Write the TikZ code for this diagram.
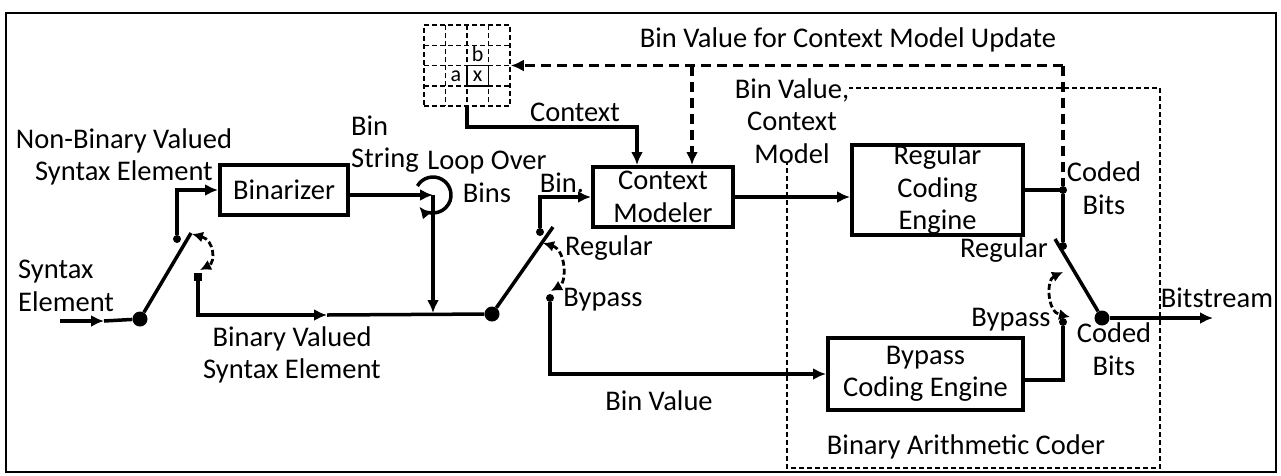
\documentclass[tikz,border=0pt]{standalone}
\usepackage{fontspec}
\setmainfont{Carlito}
\usetikzlibrary{arrows.meta,calc}
\begin{document}
\begin{tikzpicture}[x=1pt,y=-1pt,
  lbl/.style={font=\fontsize{28.5}{32.5}\selectfont, inner sep=0pt, align=center},
  box/.style={draw, line width=4pt, inner sep=0pt, align=center, font=\fontsize{28.5}{32.5}\selectfont},
  conn/.style={line width=3.5pt},
  arr/.style={conn, -{Latex[length=13pt,width=12pt]}},
  fb/.style={line width=3.5pt, dash pattern=on 10pt off 6pt},
  fbarr/.style={fb, -{Latex[length=13pt,width=12pt]}},
  swarc/.style={line width=2.8pt, dash pattern=on 6pt off 3pt, {Latex[length=11pt,width=11pt]}-{Latex[length=11pt,width=11pt]}},
  thindash/.style={line width=1.5pt, dash pattern=on 5pt off 3pt},
  pivot/.style={circle, fill, inner sep=0pt, minimum size=15pt},
  contact/.style={circle, fill, inner sep=0pt, minimum size=8pt},
  cell/.style={font=\fontsize{22}{22}\selectfont, inner sep=0pt},
]
\useasboundingbox (0,0) rectangle (1281,475);
\draw[line width=2.2pt] (6,13) rectangle (1276,472);

% context template grid
\node[draw, thindash, minimum width=86pt, minimum height=81pt, inner sep=0pt] (grid) at (467,65.5) {};
\foreach \gx in {445.5,467,488.5} \draw[thindash] (\gx,25) -- (\gx,106);
\foreach \gy in {45.25,65.5,85.75} \draw[thindash] (424,\gy) -- (510,\gy);
\draw[line width=1.8pt] (467,65.5) rectangle (488.5,85.75);
\node[cell] (cb) at (477.75,54) {b};
\node[cell] (ca) at (456,76.5) {a};
\node[cell] (cx) at (477.75,76.5) {x};

% blocks
\node[box, minimum width=128pt, minimum height=50pt] (bin) at (284,190) {Binarizer};
\node[box, minimum width=140pt, minimum height=60pt] (cm) at (663,197) {Context\\Modeler};
\node[box, minimum width=171pt, minimum height=88pt] (rce) at (937.5,190) {Regular\\Coding\\Engine};
\node[box, minimum width=195pt, minimum height=72pt] (bce) at (925.5,374) {Bypass\\Coding Engine};

% binary arithmetic coder frame
\draw[thindash] (787,88) rectangle (1160,468);
\node[lbl] (bacl) at (966,447) {Binary Arithmetic Coder};

% switches: pivots and contacts
\node[pivot] (p1) at (140,319) {};
\node[contact] (c1a) at (177,239) {};
\node[fill, inner sep=0pt, minimum width=8pt, minimum height=8pt] (c1b) at (198,277) {};
\coordinate (b1top) at (191,233);
\node[pivot] (p2) at (492,314) {};
\node[contact] (c2a) at (540,232) {};
\node[contact] (c2b) at (550,298) {};
\coordinate (b2top) at (553,227);
\node[pivot] (p3) at (1102,318) {};
\node[contact] (c3a) at (1063,246) {};
\node[contact] (c3b) at (1063,322) {};
\node[contact] (rcj) at (1063,190) {};
\coordinate (b3top) at (1055,239);

% input
\coordinate (seIn) at (60,321);
\coordinate (seMid) at (104,321);
\draw[arr] (seIn) -- (seMid);
\draw[conn] (seMid) -- (p1);
\draw[conn] (p1) -- (b1top);
\draw[arr] (c1a) |- (bin.west);
\coordinate (bvMid) at (327,315);
\draw[arr] (c1b) |- (bvMid);
\draw[conn] (bvMid) -- (p2);
\draw[swarc] (192,234) .. controls (214,240) and (216,262) .. (200,270);

% binarizer output and loop
\coordinate (loopc) at (433,195);
\draw[arr] (bin.east |- loopc) -- (loopc);
\draw[conn, -{Latex[length=12pt,width=11pt]}] ($(loopc)+(150:18pt)$) arc[start angle=150, end angle=-140, radius=18pt];
\draw[arr] (loopc) -- (433,313);

% middle switch
\draw[conn] (p2) -- (b2top);
\draw[arr] (c2a) |- (cm.west);
\draw[arr] (c2b) |- (bce.west);
\draw[swarc] (543,243) .. controls (566,250) and (567,282) .. (551,291);

% context
\draw[arr] (grid.south) -- ++(0,20) -| ([xshift=-26pt]cm.north);

% context modeler to regular engine
\draw[arr] (cm.east) -- (cm.east -| rce.west);

% feedback
\coordinate (fbR) at (1063,65.5);
\coordinate (fbM) at (692,65.5);
\draw[fbarr] (fbR) -- (grid.east);
\draw[fbarr] (fbM) -- ([xshift=29pt]cm.north);
\draw[fb] (fbR) -- (rcj);

% engines to output switch
\draw[conn] (rce.east) -| (rcj);
\draw[conn] (rcj) -- (c3a);
\draw[conn] ([yshift=-6pt]bce.east) -| (c3b);
\draw[conn] (p3) -- (b3top);
\draw[swarc] (1063,272) .. controls (1046,280) and (1047,312) .. (1070,317);
\coordinate (bsOut) at (1213,318);
\draw[arr] (p3) -- (bsOut);

% labels
\node[lbl] (l1) at (124,157) {Non-Binary Valued\\Syntax Element};
\node[lbl, align=left, anchor=west] (l2) at (18,286) {Syntax\\Element};
\node[lbl] (l3) at (292,355) {Binary Valued\\Syntax Element};
\node[lbl, align=left, anchor=west] (l4) at (351,144) {Bin\\String};
\node[lbl] (l5) at (487,177) {Loop Over\\Bins};
\node[lbl] (l6) at (562,183) {Bin.};
\node[lbl] (l7) at (575,112) {Context};
\node[lbl, fill=white] (l8) at (792,121) {Bin Value,\\Context\\Model};
\node[lbl] (l9) at (848,40) {Bin Value for Context Model Update};
\node[lbl] (l10) at (609,248) {Regular};
\node[lbl] (l11) at (603,300) {Bypass};
\node[lbl] (l12) at (659,401) {Bin Value};
\node[lbl] (l13) at (1104,188) {Coded\\Bits};
\node[lbl] (l14) at (1004,250) {Regular};
\node[lbl] (l15) at (1011,320) {Bypass};
\node[lbl] (l16) at (1114,349) {Coded\\Bits};
\node[lbl] (l17) at (1217,298) {Bitstream};
\end{tikzpicture}
\end{document}
